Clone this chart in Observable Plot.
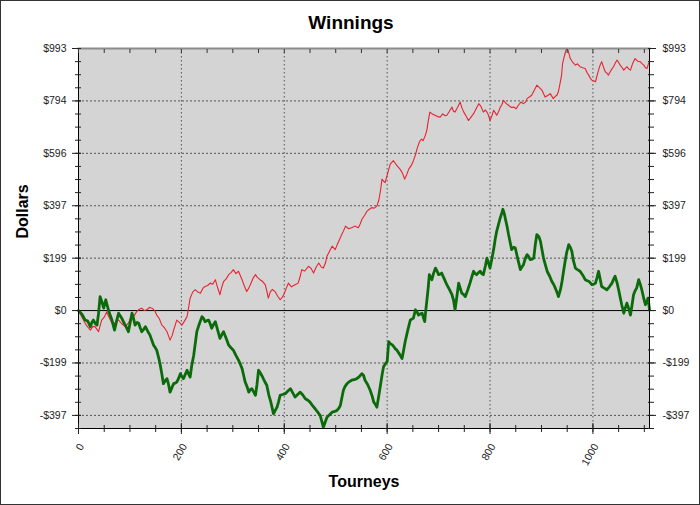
<!DOCTYPE html>
<html><head><meta charset="utf-8">
<script src="https://cdn.jsdelivr.net/npm/d3@7"></script>
<script src="https://cdn.jsdelivr.net/npm/@observablehq/plot@0.6"></script>
<style>
html,body{margin:0;padding:0;background:#fff;}
#chart svg{display:block;outline:1px solid #333;outline-offset:-1px;}
</style></head><body><div id="chart"></div>
<script>
const title = "Winnings";
const xLabel = "Tourneys";
const yLabel = "Dollars";
const xTicks = [0, 200, 400, 600, 800, 1000];
const yTickValues = [-397.2, -198.6, 0, 198.6, 397.2, 595.8, 794.4, 993];
const yTickLabels = ["-$397", "-$199", "$0", "$199", "$397", "$596", "$794", "$993"];

// [tourney, dollars]
const redSeries = [[0,0],[8,-30],[15,-55],[23,-74],[28,-60],[32,-61],[39,-80],[45,-36],[50,-25],[55,-4],[58,-20],[63,-40],[68,-55],[73,-40],[78,-36],[84,-50],[91,-61],[97,-48],[104,-17],[108,-20],[113,-4],[118,5],[123,9],[128,0],[133,3],[138,12],[143,9],[148,0],[152,-17],[157,-30],[162,-55],[167,-65],[172,-80],[178,-112],[182,-95],[185,-74],[191,-36],[196,-45],[201,-55],[206,-40],[211,-23],[214,10],[217,47],[222,70],[227,79],[232,70],[237,66],[242,85],[246,91],[251,95],[256,104],[261,100],[266,117],[270,90],[275,60],[278,85],[282,110],[287,120],[292,136],[297,145],[301,155],[306,140],[311,149],[318,117],[322,95],[327,72],[331,85],[334,98],[340,125],[344,136],[348,125],[353,117],[358,110],[363,98],[366,75],[369,47],[373,72],[377,80],[382,72],[387,55],[392,41],[396,50],[399,60],[404,85],[408,104],[414,90],[421,98],[427,104],[431,130],[434,155],[440,150],[447,168],[452,160],[457,142],[462,165],[467,180],[472,165],[476,161],[480,180],[483,206],[488,225],[493,244],[499,231],[503,250],[506,263],[511,285],[515,301],[519,320],[525,310],[531,314],[537,320],[544,314],[548,330],[551,346],[556,360],[561,377],[566,385],[570,390],[575,388],[580,396],[584,420],[587,454],[590,498],[593,490],[596,485],[601,520],[606,555],[612,568],[615,560],[619,549],[625,536],[630,520],[634,498],[638,515],[642,536],[647,550],[651,568],[655,590],[658,612],[661,630],[664,644],[667,650],[670,644],[674,663],[677,682],[680,720],[683,752],[688,745],[693,740],[698,735],[703,733],[708,745],[713,738],[716,740],[721,755],[726,771],[729,755],[732,752],[737,770],[742,790],[745,770],[749,752],[754,735],[758,720],[763,733],[768,746],[773,765],[778,784],[782,775],[787,752],[791,760],[794,752],[797,740],[800,720],[804,740],[807,759],[810,750],[813,740],[817,755],[820,771],[823,780],[826,797],[831,785],[836,778],[841,770],[846,771],[851,765],[855,778],[860,790],[865,784],[869,790],[872,803],[877,810],[881,816],[886,835],[891,854],[896,845],[901,835],[907,809],[912,815],[917,822],[923,803],[927,812],[930,816],[933,830],[936,860],[939,890],[941,936],[944,960],[946,975],[949,994],[952,985],[956,955],[961,940],[966,930],[970,935],[975,924],[980,920],[985,917],[989,900],[992,892],[995,880],[998,873],[1002,870],[1005,867],[1008,890],[1011,911],[1014,930],[1017,943],[1021,920],[1024,905],[1027,900],[1030,892],[1035,910],[1040,924],[1044,940],[1047,949],[1050,940],[1053,930],[1057,920],[1060,911],[1063,918],[1066,924],[1070,915],[1073,911],[1077,935],[1082,955],[1087,945],[1092,943],[1096,935],[1099,930],[1102,920],[1105,917],[1108,935],[1110,943]];

const greenSeries = [[0,0],[7,-15],[13,-36],[18,-40],[23,-61],[26,-45],[29,-36],[33,-50],[36,-55],[39,-10],[42,53],[46,30],[49,9],[53,41],[58,3],[62,-20],[65,-36],[70,-74],[74,-40],[78,-10],[81,-20],[84,-29],[88,-45],[91,-55],[97,-80],[101,-40],[104,-10],[107,-30],[110,-55],[114,-45],[117,-48],[120,-65],[123,-80],[127,-70],[130,-61],[135,-80],[139,-93],[142,-110],[146,-131],[149,-140],[152,-150],[156,-180],[159,-207],[162,-240],[165,-277],[169,-265],[172,-258],[175,-280],[178,-309],[182,-290],[185,-277],[188,-275],[191,-271],[195,-255],[198,-239],[201,-250],[204,-258],[208,-240],[211,-226],[214,-240],[217,-252],[220,-210],[224,-169],[227,-125],[230,-80],[235,-50],[240,-23],[243,-30],[246,-42],[250,-38],[253,-36],[256,-50],[259,-67],[262,-55],[266,-42],[270,-70],[275,-105],[279,-90],[282,-80],[287,-105],[292,-131],[296,-140],[301,-150],[306,-170],[311,-188],[315,-205],[318,-220],[321,-245],[324,-271],[328,-290],[331,-309],[334,-300],[337,-296],[341,-310],[344,-321],[347,-280],[350,-226],[353,-235],[356,-245],[361,-265],[366,-283],[370,-320],[373,-340],[376,-365],[379,-391],[382,-380],[386,-366],[389,-345],[392,-321],[397,-318],[402,-315],[407,-305],[412,-296],[416,-310],[421,-328],[426,-318],[431,-309],[436,-320],[441,-334],[446,-340],[450,-347],[455,-360],[460,-372],[465,-385],[470,-398],[473,-420],[476,-442],[480,-420],[483,-404],[488,-395],[493,-385],[498,-382],[502,-379],[506,-370],[509,-360],[512,-330],[515,-302],[518,-288],[522,-277],[526,-270],[531,-264],[536,-262],[541,-258],[546,-250],[551,-239],[554,-245],[557,-264],[562,-280],[567,-302],[571,-325],[574,-347],[577,-355],[580,-366],[584,-320],[587,-283],[590,-245],[593,-213],[597,-200],[600,-194],[603,-118],[606,-125],[610,-130],[613,-137],[616,-145],[619,-150],[624,-165],[629,-182],[632,-150],[635,-118],[640,-75],[645,-36],[648,-32],[651,-29],[655,3],[658,-5],[661,-17],[665,-12],[668,-10],[671,-30],[673,-42],[675,0],[677,34],[680,90],[682,136],[685,125],[687,117],[690,140],[694,161],[697,150],[700,136],[703,138],[706,142],[711,120],[716,98],[721,80],[726,60],[729,40],[732,3],[736,60],[739,104],[742,85],[745,66],[749,60],[752,53],[757,80],[761,104],[765,130],[768,149],[771,140],[774,136],[778,145],[781,149],[784,140],[787,136],[791,170],[794,199],[797,180],[800,161],[804,200],[807,231],[810,270],[813,301],[817,330],[820,352],[823,370],[825,384],[828,365],[830,346],[833,320],[836,288],[839,260],[842,231],[846,240],[849,238],[854,195],[859,155],[862,165],[865,174],[869,200],[872,212],[875,205],[878,193],[882,195],[885,199],[888,250],[891,288],[895,280],[898,263],[901,230],[904,199],[908,170],[911,149],[916,130],[920,111],[924,98],[927,85],[930,70],[933,53],[937,80],[940,111],[943,150],[946,187],[949,220],[953,250],[956,240],[959,225],[962,190],[966,161],[970,155],[975,149],[980,135],[985,117],[989,113],[992,111],[995,105],[998,98],[1002,100],[1005,104],[1008,125],[1011,149],[1014,120],[1017,91],[1022,85],[1027,79],[1032,90],[1037,104],[1040,118],[1043,130],[1047,105],[1050,79],[1053,50],[1056,22],[1060,-10],[1063,10],[1066,28],[1070,5],[1073,-17],[1076,20],[1079,60],[1082,75],[1085,85],[1089,117],[1092,100],[1095,79],[1099,45],[1102,22],[1105,35],[1107,47],[1109,20],[1110,3]];

const red = redSeries.map(([t, v]) => ({t, v}));
const green = greenSeries.map(([t, v]) => ({t, v}));

const xDomain = [0, 1110];
const yDomain = [-446.85, 993];
const xMinor = d3.range(0, 1101, 50);
const yMinor = d3.range(-9, 21).map(i => i * 49.65).filter(v => v >= yDomain[0] - 0.01 && v <= yDomain[1] + 0.01);
const labelOf = v => yTickLabels[yTickValues.indexOf(v)];
const font = "'Liberation Sans', Arial, sans-serif";

const chart = Plot.plot({
  width: 700,
  height: 505,
  marginLeft: 78,
  marginRight: 51,
  marginTop: 48,
  marginBottom: 77,
  style: {fontFamily: font, fontSize: "10.5px", color: "#222", background: "#fff"},
  x: {domain: xDomain, label: null},
  y: {domain: yDomain, label: null},
  marks: [
    Plot.frame({fill: "#d4d4d4", stroke: null}),
    Plot.gridX(xTicks.filter(d => d > 0), {stroke: "#555", strokeOpacity: 1, strokeDasharray: "1.5,2.5"}),
    Plot.gridY(yTickValues.filter(d => d !== 0), {stroke: "#555", strokeOpacity: 1, strokeDasharray: "2,2"}),
    Plot.ruleY([0], {stroke: "#000", strokeWidth: 1}),
    Plot.line(red, {x: "t", y: "v", stroke: "#e8232f", strokeWidth: 1.1}),
    Plot.line(green, {x: "t", y: "v", stroke: "#0b6b0b", strokeWidth: 2.8}),
    Plot.frame({anchor: "top", stroke: "#8c8c8c", strokeWidth: 2}),
    Plot.ruleX([xDomain[0], xDomain[1]], {stroke: "#000"}),
    Plot.ruleY([yDomain[0]], {stroke: "#000"}),
    // left axis
    Plot.axisY(yMinor, {anchor: "left", tickSize: 6, dx: 3, tickFormat: () => "", label: null}),
    Plot.axisY(yTickValues, {anchor: "left", tickSize: 9, dx: 3, tickFormat: () => "", label: null}),
    Plot.axisY(yTickValues, {anchor: "left", tickSize: 0, tickPadding: 12, tickFormat: labelOf, label: null}),
    // right axis
    Plot.axisY(yMinor, {anchor: "right", tickSize: 6, dx: -2, tickFormat: () => "", label: null}),
    Plot.axisY(yTickValues, {anchor: "right", tickSize: 8, dx: -2, tickFormat: () => "", label: null}),
    Plot.axisY(yTickValues, {anchor: "right", tickSize: 0, tickPadding: 13, tickFormat: labelOf, label: null}),
    // bottom axis
    Plot.axisX(xMinor, {anchor: "bottom", tickSize: 7, dy: -3, tickFormat: () => "", label: null}),
    Plot.axisX(xTicks, {anchor: "bottom", tickSize: 11, dy: -5, tickFormat: () => "", label: null}),
    Plot.axisX(xTicks, {anchor: "bottom", tickSize: 0, tickPadding: 16, tickRotate: -60, textAnchor: "end", dx: 3, tickFormat: d => String(d), label: null}),
    // top axis ticks
    Plot.axisX(xMinor, {anchor: "top", tickSize: 4, dy: 4, stroke: "#333", tickFormat: () => "", label: null}),
    // titles
    Plot.text([title], {text: d => d, frameAnchor: "top", lineAnchor: "middle", dy: -26, dx: -13, fontSize: 19, fontWeight: "bold", fill: "#000"}),
    Plot.text([yLabel], {text: d => d, frameAnchor: "left", lineAnchor: "middle", dx: -56, rotate: -90, fontSize: 16, fontWeight: "bold", fill: "#000"}),
    Plot.text([xLabel], {text: d => d, frameAnchor: "bottom", lineAnchor: "middle", dy: 53, fontSize: 16, fontWeight: "bold", fill: "#000"})
  ]
});
document.getElementById("chart").appendChild(chart);
</script></body></html>
